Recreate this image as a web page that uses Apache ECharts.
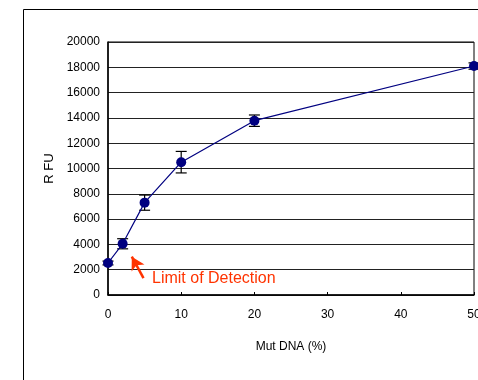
<!DOCTYPE html>
<html><head><meta charset="utf-8">
<script src="https://cdn.jsdelivr.net/npm/echarts@6/dist/echarts.min.js"></script>
<style>html,body{margin:0;padding:0;background:#fff}#c{width:478px;height:380px}</style>
</head><body><div id="c"></div>
<script>
var xValues = [0, 2, 5, 10, 20, 50];
var rfu = [2530, 4050, 7300, 10500, 13780, 18100];
var errs = [150, 400, 600, 850, 450, 250];
var yTicks = [0, 2000, 4000, 6000, 8000, 10000, 12000, 14000, 16000, 18000, 20000];
var xTicks = [0, 10, 20, 30, 40, 50];
var arrowFrom = [4.85, 1340];
var arrowTo = [3.25, 3030];
var annotation = 'Limit of Detection';

var font = 'Liberation Sans, Arial, sans-serif';
var chart = echarts.init(document.getElementById('c'), null, {renderer: 'canvas'});
var pts = xValues.map(function (x, i) { return [x, rfu[i]]; });
var errData = xValues.map(function (x, i) { return [x, rfu[i] - errs[i], rfu[i] + errs[i]]; });

chart.setOption({
  animation: false,
  backgroundColor: '#fff',
  grid: {left: 108, top: 42, right: 4, bottom: 85, show: true, borderColor: '#000', borderWidth: 1,
    outerBoundsMode: 'none', containLabel: false},
  xAxis: {
    type: 'value', min: xTicks[0], max: xTicks[xTicks.length - 1], interval: 10,
    name: 'Mut DNA (%)', nameLocation: 'middle', nameGap: 46,
    nameTextStyle: {fontFamily: font, fontSize: 12, color: '#000'},
    axisLine: {lineStyle: {color: '#000', width: 1.5}},
    axisTick: {inside: true, length: 3, lineStyle: {color: '#000'}},
    axisLabel: {fontFamily: font, fontSize: 12, color: '#000', margin: 14},
    splitLine: {show: false}
  },
  yAxis: {
    type: 'value', min: yTicks[0], max: yTicks[yTicks.length - 1], interval: 2000,
    name: 'R FU', nameLocation: 'middle', nameGap: 40, nameRotate: 90,
    nameTextStyle: {fontFamily: font, fontSize: 13, color: '#000'},
    axisLine: {lineStyle: {color: '#000', width: 1.5}},
    axisTick: {show: false},
    axisLabel: {fontFamily: font, fontSize: 12, color: '#000', margin: 8,
      formatter: function (v) { return String(v); }},
    splitLine: {lineStyle: {color: '#222', width: 1}}
  },
  series: [
    {
      type: 'line', data: pts, symbol: 'circle', symbolSize: 10,
      itemStyle: {color: '#000080'}, lineStyle: {color: '#000080', width: 1.2},
      z: 3, clip: false,
      markLine: {
        silent: true, symbol: ['none', 'arrow'], symbolSize: [11, 13],
        lineStyle: {color: '#FF3300', width: 2.5, type: 'solid'},
        label: {show: false},
        data: [[{coord: arrowFrom}, {coord: arrowTo}]]
      }
    },
    {
      type: 'custom', data: errData, z: 2,
      renderItem: function (params, api) {
        var x = api.value(0);
        var lo = api.coord([x, api.value(1)]);
        var hi = api.coord([x, api.value(2)]);
        var w = 5.5;
        var st = {stroke: '#000', lineWidth: 1.2};
        return {type: 'group', children: [
          {type: 'line', shape: {x1: lo[0], y1: lo[1], x2: hi[0], y2: hi[1]}, style: st},
          {type: 'line', shape: {x1: lo[0] - w, y1: lo[1], x2: lo[0] + w, y2: lo[1]}, style: st},
          {type: 'line', shape: {x1: hi[0] - w, y1: hi[1], x2: hi[0] + w, y2: hi[1]}, style: st}
        ]};
      }
    }
  ],
  graphic: [
    {type: 'polyline', shape: {points: [[23.5, 400], [23.5, 9.5], [500, 9.5]]}, style: {stroke: '#000', lineWidth: 1, fill: null}},
    {type: 'text', left: 152, top: 271, style: {text: annotation, fill: '#FF3300', fontFamily: font, fontSize: 16}}
  ]
});
</script></body></html>
